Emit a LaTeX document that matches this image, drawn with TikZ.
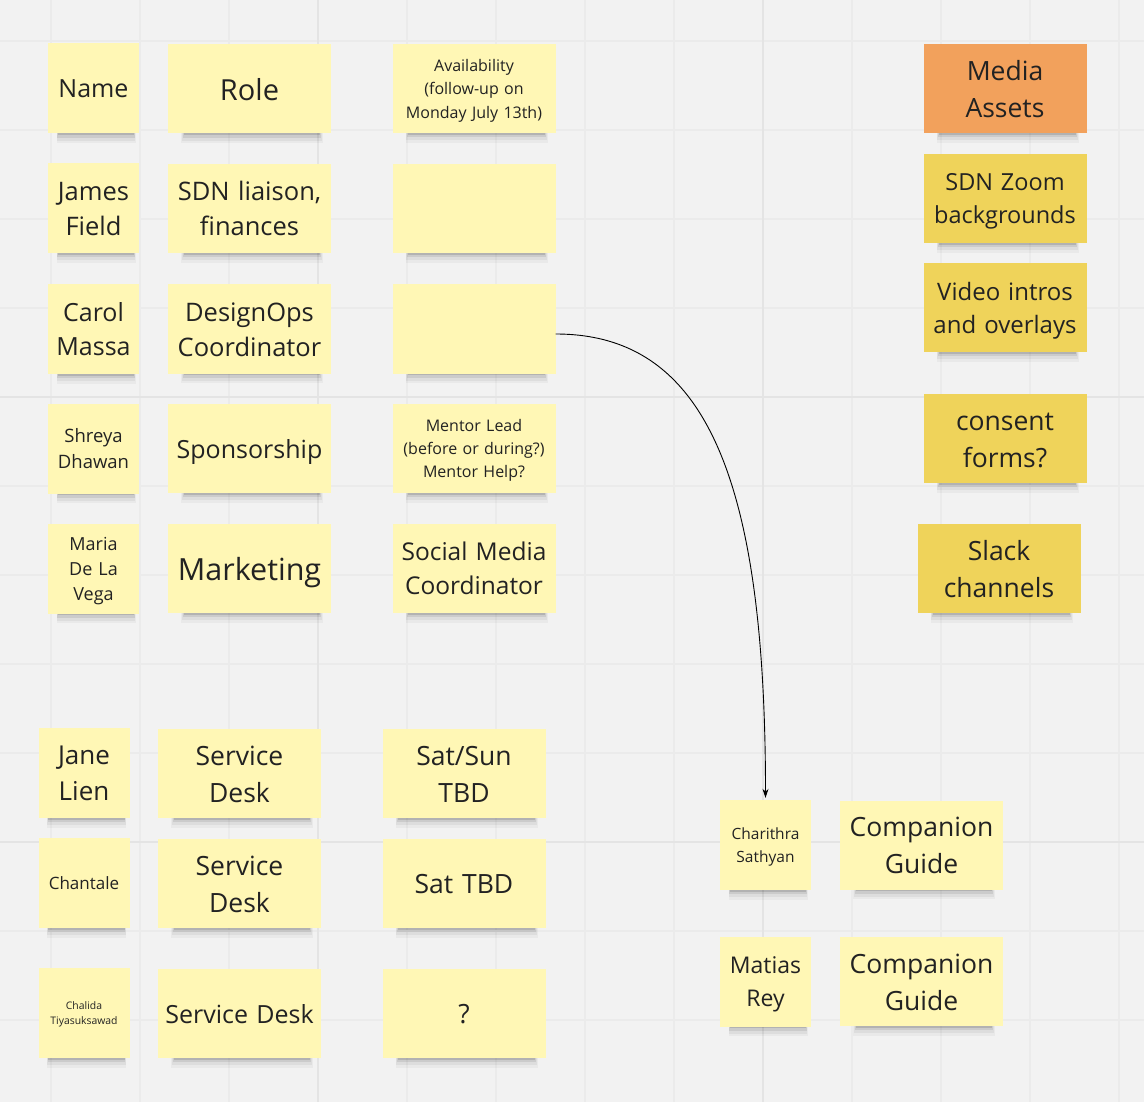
\documentclass[tikz,border=0pt]{standalone}
\usepackage{fontspec}
\setmainfont{Open Sans}
\usetikzlibrary{shadows,arrows.meta}
\definecolor{bgc}{HTML}{F2F2F2}
\definecolor{gridminor}{HTML}{EBEBEB}
\definecolor{gridmajor}{HTML}{E4E4E4}
\definecolor{palenote}{HTML}{FFF7B5}
\definecolor{darknote}{HTML}{EFD35A}
\definecolor{orangenote}{HTML}{F2A15C}
\definecolor{inkc}{HTML}{222222}
\newcommand\fz[2]{\fontsize{#1}{#2}\selectfont}
\newcommand\mstrut{\rule[-0.30em]{0pt}{1.36em}}
\tikzset{
  shadowed/.style={
    general shadow={fill=black,opacity=0.035,shadow xshift=3pt,shadow yshift=-18pt,shadow scale=0.87},
    general shadow={fill=black,opacity=0.05,shadow xshift=3pt,shadow yshift=-15.5pt,shadow scale=0.86},
    general shadow={fill=black,opacity=0.08,shadow xshift=3pt,shadow yshift=-13pt,shadow scale=0.85},
    general shadow={fill=black,opacity=0.12,shadow xshift=3pt,shadow yshift=-10.5pt,shadow scale=0.84}},
  note/.style={shadowed,rectangle,inner sep=0pt,align=center,text=inkc,
    execute at begin node={\mstrut}, execute at end node={\mstrut}},
  small/.style={note,minimum width=91pt,minimum height=90pt,text width=85pt},
  wide/.style={note,minimum width=163pt,minimum height=89pt,text width=157pt},
  pale/.style={fill=palenote},
  dark/.style={fill=darknote},
  orng/.style={fill=orangenote},
}
\begin{document}
\begin{tikzpicture}[x=1pt,y=-1pt]
\useasboundingbox (0,0) rectangle (1144,1102);
\fill[bgc] (0,0) rectangle (1144,1102);
% grid
\foreach \gx in {51,140,229,407,496,585,674,852,941,1030,1119}
  \draw[gridminor,line width=1.5pt] (\gx,0) -- (\gx,1102);
\foreach \gy in {41,130,219,308,486,575,664,753,931,1020}
  \draw[gridminor,line width=1.5pt] (0,\gy) -- (1144,\gy);
\foreach \gx in {318,763}
  \draw[gridmajor,line width=1.8pt] (\gx,0) -- (\gx,1102);
\foreach \gy in {397,842}
  \draw[gridmajor,line width=1.8pt] (0,\gy) -- (1144,\gy);

% column 1 (names)
\node[small,pale,font={\fz{25}{34}}] (n1) at (93.5,88.5) {Name};
\node[small,pale,font={\fz{25.5}{35}}] (n2) at (93.5,208) {James\\Field};
\node[small,pale,font={\fz{25}{34}}] (n3) at (93.5,329) {Carol\\Massa};
\node[small,pale,font={\fz{18.5}{25.5}}] (n4) at (93.5,448.5) {Shreya\\Dhawan};
\node[small,pale,font={\fz{18}{25}}] (n5) at (93.5,568.5) {Maria\\De La\\Vega};

% column 2 (roles)
\node[wide,pale,font={\fz{29}{39}}] (r1) at (249.5,89) {Role};
\node[wide,pale,font={\fz{25.5}{35}}] (r2) at (249.5,208.5) {SDN liaison,\\finances};
\node[wide,pale,font={\fz{25.5}{35}}] (r3) at (249.5,329) {DesignOps\\Coordinator};
\node[wide,pale,font={\fz{25}{34}}] (r4) at (249.5,448.5) {Sponsorship};
\node[wide,pale,font={\fz{30.5}{41}}] (r5) at (249.5,568.5) {Marketing};

% column 3
\node[wide,pale,font={\fz{16}{23.5}}] (e1) at (474,88.5) {Availability\\(follow-up on\\Monday July 13th)};
\node[wide,pale] (e2) at (474,208.5) {};
\node[wide,pale] (e3) at (474,329) {};
\node[wide,pale,font={\fz{16}{23}}] (e4) at (474,448.5) {Mentor Lead\\(before or during?)\\Mentor Help?};
\node[wide,pale,font={\fz{24.5}{34}}] (e5) at (474,568.5) {Social Media\\Coordinator};

% right column (media assets)
\node[wide,orng,font={\fz{26.5}{37}}] (m1) at (1005,88.5) {Media\\Assets};
\node[wide,dark,font={\fz{23.5}{33}}] (m2) at (1005,198.5) {SDN Zoom\\backgrounds};
\node[wide,dark,font={\fz{24}{33}}] (m3) at (1005,307.5) {Video intros\\and overlays};
\node[wide,dark,font={\fz{26.5}{37}}] (m4) at (1005,438.5) {consent\\forms?};
\node[wide,dark,font={\fz{26.5}{37}}] (m5) at (999,568.5) {Slack\\channels};

% bottom left block
\node[small,pale,font={\fz{26}{36}}] (b1) at (84,773) {Jane\\Lien};
\node[small,pale,font={\fz{17}{23}}] (b2) at (84,883) {Chantale};
\node[small,pale,font={\fz{10.4}{14.5}}] (b3) at (84,1013) {Chalida\\Tiyasuksawad};
\node[wide,pale,font={\fz{26.5}{37}}] (s1) at (239.5,773.5) {Service\\Desk};
\node[wide,pale,font={\fz{26.5}{37}}] (s2) at (239.5,883.5) {Service\\Desk};
\node[wide,pale,font={\fz{25}{34}}] (s3) at (239.5,1013.5) {Service Desk};
\node[wide,pale,font={\fz{26.5}{37}}] (t1) at (464,773.5) {Sat/Sun\\TBD};
\node[wide,pale,font={\fz{26.5}{37}}] (t2) at (464,883.5) {Sat TBD};
\node[wide,pale,font={\fz{26.5}{37}}] (t3) at (464,1013.5) {?};

% bottom right block
\node[small,pale,font={\fz{15.5}{23}}] (c1) at (765.5,845) {Charithra\\Sathyan};
\node[wide,pale,font={\fz{26.5}{37}}] (g1) at (921.5,845) {Companion\\Guide};
\node[small,pale,font={\fz{23}{33}}] (c2) at (765.5,981.5) {Matias\\Rey};
\node[wide,pale,font={\fz{26.5}{37}}] (g2) at (921.5,981.5) {Companion\\Guide};

% connector
\draw[black,line width=0.9pt,-{Stealth[length=9pt,width=6pt]}]
  ([yshift=-5pt]e3.east) .. controls +(150,0) and +(0,-320) .. ([yshift=2pt]c1.north);
\end{tikzpicture}
\end{document}
